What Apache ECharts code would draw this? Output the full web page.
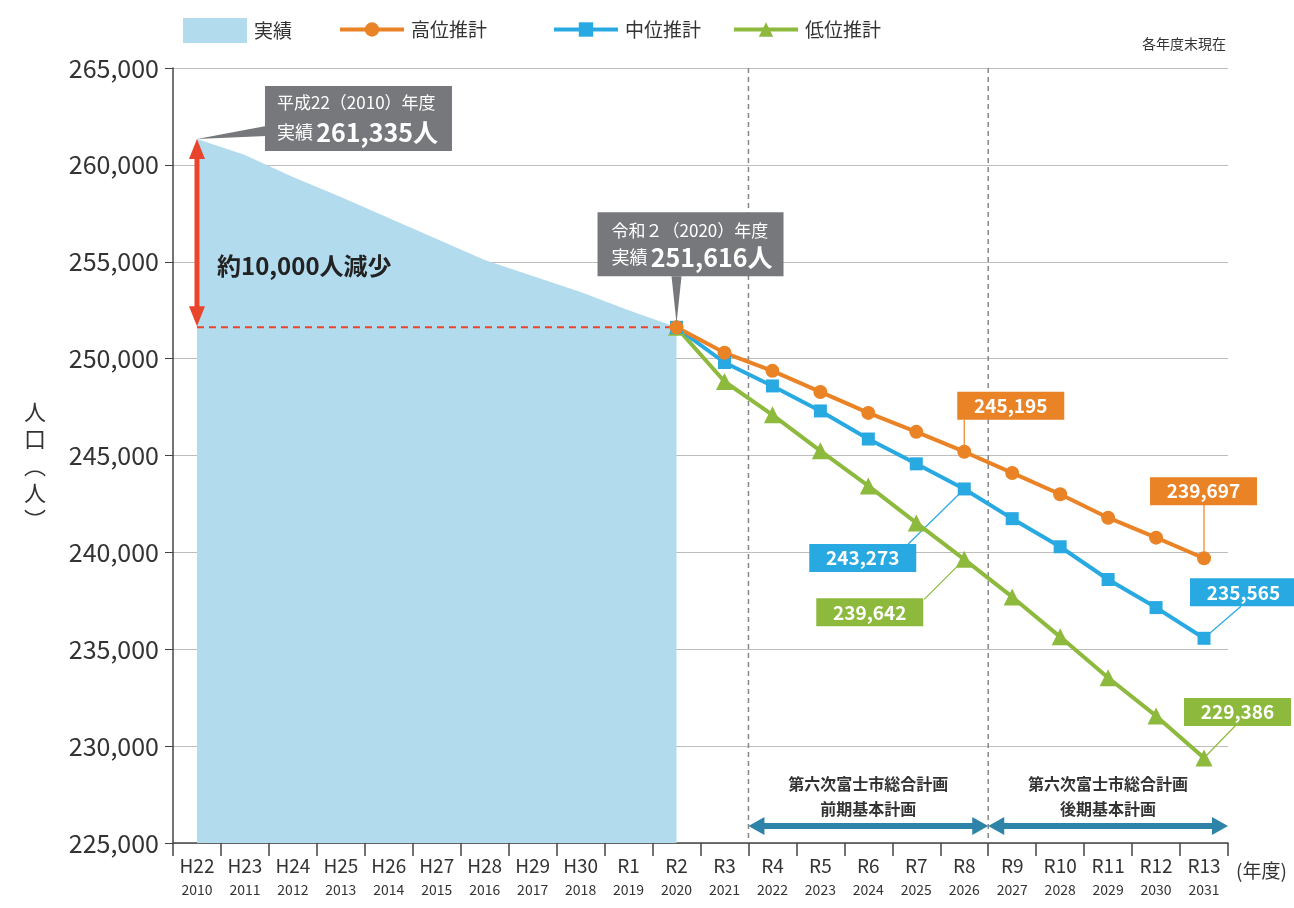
<!DOCTYPE html>
<html>
<head>
<meta charset="utf-8">
<title>人口推計</title>
<script src="https://cdn.jsdelivr.net/npm/echarts@6/dist/echarts.min.js"></script>
<style>
  html, body { margin: 0; padding: 0; background: #fff; }
  #chart { width: 1294px; height: 908px; }
</style>
</head>
<body>
<div id="chart"></div>
<script>
// 年度 (和暦 / 西暦)
var eraLabels = ['H22', 'H23', 'H24', 'H25', 'H26', 'H27', 'H28', 'H29', 'H30', 'R1', 'R2',
  'R3', 'R4', 'R5', 'R6', 'R7', 'R8', 'R9', 'R10', 'R11', 'R12', 'R13']
var yearLabels = ['2010', '2011', '2012', '2013', '2014', '2015', '2016', '2017', '2018', '2019', '2020',
  '2021', '2022', '2023', '2024', '2025', '2026', '2027', '2028', '2029', '2030', '2031']

// 実績 H22〜R2
var actualData = [261335, 260510, 259380, 258340, 257260, 256180, 255090, 254270, 253440, 252500, 251616]
// 推計 R2〜R13
var highData = [251616, 250300, 249370, 248280, 247200, 246220, 245195, 244100, 243000, 241790, 240760, 239697]
var midData = [251616, 249800, 248590, 247300, 245850, 244570, 243273, 241740, 240290, 238600, 237150, 235565]
var lowData = [251616, 248820, 247100, 245240, 243430, 241520, 239642, 237700, 235640, 233530, 231560, 229386]

var yTicks = [225000, 230000, 235000, 240000, 245000, 250000, 255000, 260000, 265000]

var C_ACT = '#b2dbee'
var C_HIGH = '#ea8226'
var C_MID = '#29a9e1'
var C_LOW = '#8db93d'
var C_GRAY = '#77787b'
var C_PLAN = '#2e84a8'
var FONT = '"Noto Sans CJK JP", "Noto Sans", sans-serif'
var NUM_FONT = '"Noto Sans CJK JP", "Noto Sans", sans-serif'

var startIdx = actualData.length - 1
function pad(arr) {
  var out = []
  for (var i = 0; i < startIdx; i++) out.push(null)
  return out.concat(arr)
}
var actualFull = actualData.concat(new Array(eraLabels.length - actualData.length).fill(null))

var chart = echarts.init(document.getElementById('chart'))

function lineSeries(name, data, color, symbol, size) {
  return {
    name: name,
    type: 'line',
    data: pad(data),
    color: color,
    symbol: symbol,
    symbolSize: size,
    lineStyle: { width: 4, color: color },
    itemStyle: { color: color },
    z: 5,
    animation: false
  }
}

var legendText = { fontSize: 19, color: '#333', fontFamily: FONT, padding: [0, 0, 0, 2] }

chart.setOption({
  animation: false,
  textStyle: { fontFamily: FONT },
  grid: { left: 173, right: 66, top: 68, bottom: 65 },
  legend: [
    { left: 178, top: 13, itemWidth: 64, itemHeight: 25, textStyle: legendText, data: [{ name: '実績', icon: 'rect' }] },
    { left: 333, top: 15, itemWidth: 64, itemHeight: 18, textStyle: legendText, lineStyle: { width: 4 }, data: ['高位推計'] },
    { left: 547, top: 15, itemWidth: 64, itemHeight: 18, textStyle: legendText, lineStyle: { width: 4 }, data: ['中位推計'] },
    { left: 727, top: 15, itemWidth: 64, itemHeight: 18, textStyle: legendText, lineStyle: { width: 4 }, data: ['低位推計'] }
  ],
  xAxis: {
    type: 'category',
    data: eraLabels,
    boundaryGap: true,
    name: '(年度)',
    nameLocation: 'end',
    nameGap: 8,
    nameTextStyle: { fontSize: 19, color: '#333', fontFamily: NUM_FONT, verticalAlign: 'top', padding: [18, 0, 0, 0] },
    axisLine: { lineStyle: { color: '#444', width: 1.5 } },
    axisTick: { show: true, length: 13, interval: 0, lineStyle: { color: '#444', width: 1.5 } },
    axisLabel: {
      interval: 0,
      margin: 9,
      formatter: function(v, i) { return '{a|' + v + '}\n{b|' + yearLabels[i] + '}' },
      rich: {
        a: { fontSize: 19, color: '#333', fontFamily: NUM_FONT, lineHeight: 27 },
        b: { fontSize: 14, color: '#333', fontFamily: NUM_FONT, lineHeight: 22 }
      }
    },
    splitLine: { show: false }
  },
  yAxis: {
    type: 'value',
    min: 225000,
    max: 265000,
    interval: 5000,
    axisLine: { show: true, lineStyle: { color: '#444', width: 1.5 } },
    axisTick: { show: true, length: 8, lineStyle: { color: '#444' } },
    axisLabel: {
      fontSize: 25,
      color: '#333',
      fontFamily: NUM_FONT,
      margin: 14,
      formatter: function(v) { return yTicks.indexOf(v) >= 0 ? v.toLocaleString('en-US') : '' }
    },
    splitLine: { lineStyle: { color: '#bdbdbd', width: 1.2 } }
  },
  series: [
    {
      name: '実績',
      type: 'line',
      data: actualFull,
      color: C_ACT,
      symbol: 'none',
      lineStyle: { width: 0 },
      itemStyle: { color: C_ACT },
      areaStyle: { color: C_ACT, opacity: 1, origin: 'start' },
      z: 1
    },
    lineSeries('低位推計', lowData, C_LOW, 'triangle', 17),
    lineSeries('中位推計', midData, C_MID, 'rect', 13),
    lineSeries('高位推計', highData, C_HIGH, 'circle', 14)
  ]
})

function px(idx, val) {
  return chart.convertToPixel({ xAxisIndex: 0, yAxisIndex: 0 }, [idx, val])
}

function drawAnnotations() {
  var g = []
  var last = eraLabels.length - 1
  var r8 = eraLabels.indexOf('R8')
  var r3 = eraLabels.indexOf('R3')
  var p0 = px(0, actualData[0])
  var pR2 = px(startIdx, actualData[startIdx])
  var top = px(0, 265000)[1]
  var bottom = px(0, 225000)[1]
  var step = px(1, 0)[0] - px(0, 0)[0]
  var b1 = (px(r3, 0)[0] + px(r3 + 1, 0)[0]) / 2
  var b2 = (px(r8, 0)[0] + px(r8 + 1, 0)[0]) / 2
  var bEnd = px(last, 0)[0] + step / 2

  // 計画期間の区切り (縦破線)
  ;[b1, b2].forEach(function(x) {
    g.push({ type: 'line', shape: { x1: x, y1: top, x2: x, y2: bottom }, style: { stroke: '#888', lineWidth: 1.5, lineDash: [5, 4] }, z: 2 })
  })

  // 減少幅 (赤い矢印 + 破線)
  g.push({ type: 'line', shape: { x1: p0[0], y1: pR2[1], x2: pR2[0], y2: pR2[1] }, style: { stroke: '#e8452c', lineWidth: 2, lineDash: [7, 5] }, z: 3 })
  g.push({ type: 'line', shape: { x1: p0[0], y1: p0[1] + 14, x2: p0[0], y2: pR2[1] - 14 }, style: { stroke: '#e8452c', lineWidth: 5 }, z: 3 })
  g.push({ type: 'polygon', shape: { points: [[p0[0], p0[1]], [p0[0] - 8, p0[1] + 20], [p0[0] + 8, p0[1] + 20]] }, style: { fill: '#e8452c' }, z: 3 })
  g.push({ type: 'polygon', shape: { points: [[p0[0], pR2[1] - 1], [p0[0] - 8, pR2[1] - 21], [p0[0] + 8, pR2[1] - 21]] }, style: { fill: '#e8452c' }, z: 3 })
  g.push({ type: 'text', x: p0[0] + 20, y: (p0[1] + pR2[1]) / 2 + 33, style: { text: '約10,000人減少', font: 'bold 24px ' + FONT, fill: '#222', verticalAlign: 'middle' }, z: 4 })

  var rich = {
    s: { fontSize: 18, fontFamily: FONT, fill: '#fff' },
    b: { fontSize: 25, fontWeight: 'bold', fontFamily: FONT, fill: '#fff' }
  }

  // 吹き出し 平成22
  var bx = p0[0] + 68, by = p0[1] - 53
  g.push({ type: 'polygon', shape: { points: [[p0[0], p0[1]], [bx + 1, by + 40], [bx + 1, by + 50]] }, style: { fill: C_GRAY }, z: 6 })
  g.push({ type: 'rect', shape: { x: bx, y: by, width: 187, height: 65 }, style: { fill: C_GRAY }, z: 6 })
  g.push({ type: 'text', x: bx + 12, y: by + 17, style: { text: '平成22（2010）年度', font: '17px ' + FONT, fill: '#fff', verticalAlign: 'middle' }, z: 7 })
  g.push({ type: 'text', x: bx + 12, y: by + 46, style: { text: '{s|実績} {b|' + actualData[0].toLocaleString('en-US') + '人}', fill: '#fff', verticalAlign: 'middle', rich: rich }, z: 7 })

  // 吹き出し 令和2
  var cx = pR2[0] - 79, cy = pR2[1] - 115
  g.push({ type: 'polygon', shape: { points: [[pR2[0], pR2[1] - 4], [pR2[0] - 5, cy + 64], [pR2[0] + 5, cy + 64]] }, style: { fill: C_GRAY }, z: 6 })
  g.push({ type: 'rect', shape: { x: cx, y: cy, width: 186, height: 64 }, style: { fill: C_GRAY }, z: 6 })
  g.push({ type: 'text', x: cx + 14, y: cy + 18, style: { text: '令和２（2020）年度', font: '17px ' + FONT, fill: '#fff', verticalAlign: 'middle' }, z: 7 })
  g.push({ type: 'text', x: cx + 14, y: cy + 45, style: { text: '{s|実績} {b|' + actualData[startIdx].toLocaleString('en-US') + '人}', fill: '#fff', verticalAlign: 'middle', rich: rich }, z: 7 })

  // 数値ラベル
  function valueBox(idx, series, color, dx, dy, lx, ly) {
    var v = series[idx - startIdx]
    var p = px(idx, v)
    g.push({ type: 'line', shape: { x1: p[0], y1: p[1], x2: p[0] + lx, y2: p[1] + ly }, style: { stroke: color, lineWidth: 1.2 }, z: 4 })
    g.push({ type: 'rect', shape: { x: p[0] + dx, y: p[1] + dy, width: 107, height: 28 }, style: { fill: color }, z: 8 })
    g.push({ type: 'text', x: p[0] + dx + 53.5, y: p[1] + dy + 14, style: { text: v.toLocaleString('en-US'), font: 'bold 19px ' + FONT, fill: '#fff', align: 'center', verticalAlign: 'middle' }, z: 9 })
  }
  valueBox(r8, highData, C_HIGH, -7, -60, 0, -32)
  valueBox(last, highData, C_HIGH, -54, -81, 0, -54)
  valueBox(r8, midData, C_MID, -155, 55, -56, 55)
  valueBox(r8, lowData, C_LOW, -148, 39, -40, 40)
  valueBox(last, midData, C_MID, -14, -60, 37, -32)
  valueBox(last, lowData, C_LOW, -20, -60, 32, -33)

  // 総合計画の期間
  var ay = bottom - 17
  function planArrow(x1, x2, title) {
    g.push({ type: 'line', shape: { x1: x1 + 12, y1: ay, x2: x2 - 12, y2: ay }, style: { stroke: C_PLAN, lineWidth: 6 }, z: 4 })
    g.push({ type: 'polygon', shape: { points: [[x1, ay], [x1 + 16, ay - 9], [x1 + 16, ay + 9]] }, style: { fill: C_PLAN }, z: 4 })
    g.push({ type: 'polygon', shape: { points: [[x2, ay], [x2 - 16, ay - 9], [x2 - 16, ay + 9]] }, style: { fill: C_PLAN }, z: 4 })
    g.push({ type: 'text', x: (x1 + x2) / 2, y: ay - 30, style: { text: '第六次富士市総合計画\n' + title, font: 'bold 16px ' + FONT, fill: '#333', align: 'center', verticalAlign: 'middle', lineHeight: 25 }, z: 4 })
  }
  planArrow(b1, b2, '前期基本計画')
  planArrow(b2, bEnd, '後期基本計画')

  // 軸名・注記
  g.push({ type: 'text', left: 24, top: 398, style: { text: '人\n口\n︵\n人\n︶', font: '22px ' + FONT, fill: '#333', lineHeight: 27, align: 'center' } })
  g.push({ type: 'text', right: 68, top: 37, style: { text: '各年度末現在', font: '14px ' + FONT, fill: '#333' } })

  chart.setOption({ graphic: g })
}

drawAnnotations()
</script>
</body>
</html>
